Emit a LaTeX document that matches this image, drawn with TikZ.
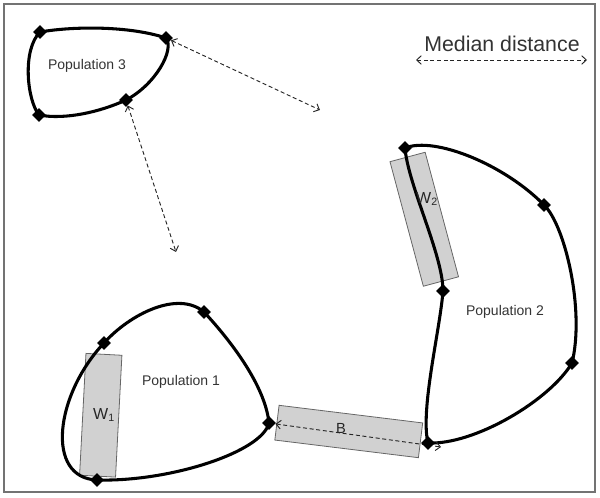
\documentclass[tikz,border=0pt]{standalone}
\usepackage{fontspec}
\setmainfont{Liberation Sans}
\usetikzlibrary{arrows.meta}
\pgfdeclarelayer{rects}
\pgfdeclarelayer{loops}
\pgfsetlayers{rects,loops,main}
\begin{document}
\begin{tikzpicture}[x=0.75pt,y=-0.75pt,
  dia/.style={fill=black, rectangle, rotate=45, minimum size=7.4pt, inner sep=0pt},
  loopline/.style={line width=2.3pt, black, line join=round},
  darrow/.style={dash pattern=on 3pt off 2pt, line width=0.7pt, black!85,
    {Straight Barb[length=3.5pt,width=6.5pt]}-{Straight Barb[length=3.5pt,width=6.5pt]}},
  graybox/.style={draw=black!60, fill=black!18, line width=0.6pt, inner sep=0pt},
  lbl/.style={text=black!80, font=\fontsize{10.5}{12}\selectfont},
  wlbl/.style={text=black!85, font=\fontsize{12}{14}\selectfont}]
\useasboundingbox (0,0) rectangle (600,498);
\draw[black!55, line width=1.5pt] (4,4) rectangle (595,492);

% diamonds
\node[dia] (p3a) at (40,32) {};
\node[dia] (p3b) at (166,38) {};
\node[dia] (p3c) at (126,100) {};
\node[dia] (p3d) at (39,115) {};
\node[dia] (p2a) at (405,148) {};
\node[dia] (p2b) at (544,205) {};
\node[dia] (p2c) at (572,363) {};
\node[dia] (p2d) at (428,443) {};
\node[dia] (p2e) at (443,291) {};
\node[dia] (p1a) at (104,343) {};
\node[dia] (p1b) at (204,312) {};
\node[dia] (p1c) at (269,423) {};
\node[dia] (p1d) at (97,480) {};

% gray boxes
\begin{pgfonlayer}{rects}
\node[graybox, minimum width=27pt, minimum height=91.5pt, rotate=-3] (w1box) at (100.75,415.25) {};
\node[graybox, minimum width=27.3pt, minimum height=96.7pt, rotate=15] (w2box) at (424.25,219.25) {};
\node[graybox, minimum width=108.5pt, minimum height=26.25pt, rotate=-7] (bbox) at (348.75,431.5) {};
\end{pgfonlayer}

\coordinate (e1) at (320,110);
\coordinate (e2) at (176,252);
\coordinate (m1) at (416,60);
\coordinate (m2) at (587,60);
\coordinate (bend) at (441,447);

\begin{pgfonlayer}{loops}
\draw[loopline] (p3a.center) .. controls (75,26) and (130,26) .. (p3b.center)
  .. controls (175,50) and (155,85) .. (p3c.center)
  .. controls (100,112) and (65,120) .. (p3d.center)
  .. controls (27,100) and (22,50) .. (p3a.center);
\draw[loopline] (p2a.center) .. controls (435,136) and (505,165) .. (p2b.center)
  .. controls (565,225) and (585,310) .. (p2c.center)
  .. controls (550,400) and (475,445) .. (p2d.center)
  .. controls (420,410) and (440,330) .. (p2e.center)
  .. controls (443,255) and (408,185) .. (p2a.center);
\draw[loopline] (p1a.center) .. controls (130,314) and (178,290) .. (p1b.center)
  .. controls (230,340) and (265,385) .. (p1c.center)
  .. controls (262,452) and (170,482) .. (p1d.center)
  .. controls (45,478) and (55,395) .. (p1a.center);
\draw[darrow] (p3b) -- (e1);
\draw[darrow] (p3c) -- (e2);
\draw[darrow] (m1) -- (m2);
\draw[darrow] (p1c) -- (bend);
\end{pgfonlayer}

% labels
\node[lbl] (t3) at (87,66) {Population 3};
\node[lbl] (t1) at (181,382) {Population 1};
\node[lbl] (t2) at (505,312) {Population 2};
\node[text=black!80, font=\fontsize{16}{18}\selectfont] (tm) at (502,44) {Median distance};
\node[wlbl] (tw1) at (104,415) {W\textsubscript{1}};
\node[wlbl] (tw2) at (427,199) {W\textsubscript{2}};
\node[text=black!85, font=\fontsize{11}{13}\selectfont] (tb) at (341,428) {B};
\end{tikzpicture}
\end{document}
